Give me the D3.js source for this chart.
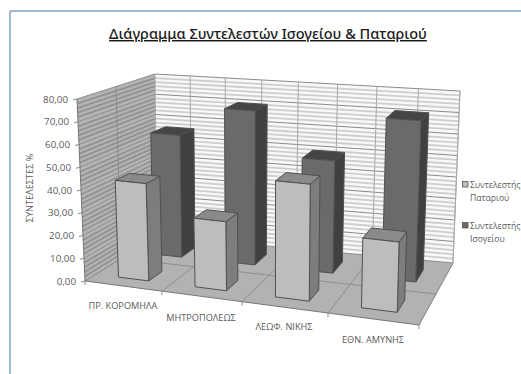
<!DOCTYPE html>
<html><head><meta charset="utf-8">
<script src="https://cdn.jsdelivr.net/npm/d3@7"></script>
<style>
html,body{margin:0;padding:0;background:#fff;overflow:hidden}
svg{display:block}
text{font-family:"Open Sans","Noto Sans",sans-serif;fill:#5a5a5a}
</style></head><body><div id="c"></div>
<script>
const categories=["ΠΡ. ΚΟΡΟΜΗΛΑ","ΜΗΤΡΟΠΟΛΕΩΣ","ΛΕΩΦ. ΝΙΚΗΣ","ΕΘΝ. ΑΜΥΝΗΣ"];
const seriesNames=["Συντελεστής Παταριού","Συντελεστής Ισογείου"];
const patariou=[43,30,50,29.5];
const isogeiou=[57,71,51,72];
const yTicks=[0,10,20,30,40,50,60,70,80];
const yTickLabels=["0,00","10,00","20,00","30,00","40,00","50,00","60,00","70,00","80,00"];

const W=521,H=374;
const svg=d3.select("#c").append("svg").attr("width",W).attr("height",H);
const defs=svg.append("defs");
defs.append("filter").attr("id","soft").append("feGaussianBlur").attr("stdDeviation",0.5);
svg.append("rect").attr("x",0).attr("y",0).attr("width",W).attr("height",H).attr("fill","#fff");
svg.append("line").attr("x1",10).attr("x2",W).attr("y1",11).attr("y2",11).attr("stroke","#9db7d6").attr("stroke-width",2);
svg.append("line").attr("x1",10).attr("x2",10).attr("y1",11).attr("y2",H).attr("stroke","#9db7d6").attr("stroke-width",2);

// plot box corners: fbl, fbr, bbr, bbl for floor and ceiling; u along categories, w into depth, v up
const floorQ=[[85,281],[419,325],[453,263],[157,236]];
const ceilQ=[[77,99],[425,130],[460,91],[155,74]];
const uWarp=d3.scaleLinear().domain([0,.25,.5,.75,1]).range([0,.2305,.47,.7275,1]);
const bil=(q,u,w)=>[0,1].map(k=>(1-w)*((1-u)*q[0][k]+u*q[1][k])+w*((1-u)*q[3][k]+u*q[2][k]));
const P=(u,w,v)=>{const U=uWarp(u),a=bil(floorQ,U,w),b=bil(ceilQ,U,w);return [a[0]+(b[0]-a[0])*v,a[1]+(b[1]-a[1])*v];};

const yS=d3.scaleLinear().domain([0,80]).range([0,1]);
const xS=d3.scaleBand().domain(categories).range([0,1]).paddingInner(0.6).paddingOuter(0.3);
const zS=d3.scaleBand().domain([0,1]).range([0,1]).paddingInner(0.6).paddingOuter(0.3);
const xStep=d3.scalePoint().domain(d3.range(categories.length+1)).range([0,1]);
const path=a=>"M"+a.map(p=>p.map(n=>n.toFixed(2)).join(",")).join("L")+"Z";
const g=svg.append("g").attr("filter","url(#soft)");
const face=(pts,fill,stroke,sw)=>g.append("path").attr("d",path(pts)).attr("fill",fill).attr("stroke",stroke||"none").attr("stroke-width",sw||0).attr("stroke-linejoin","round");
const seg=(a,b,c,sw)=>g.append("line").attr("x1",a[0]).attr("y1",a[1]).attr("x2",b[0]).attr("y2",b[1]).attr("stroke",c).attr("stroke-width",sw);

// walls and floor
face([P(0,0,0),P(0,1,0),P(0,1,1),P(0,0,1)],"#b4b4b4");
face([P(0,1,0),P(1,1,0),P(1,1,1),P(0,1,1)],"#f8f8f8");
face([P(0,0,0),P(1,0,0),P(1,1,0),P(0,1,0)],"#b2b2b2");
d3.range(0,81,2).forEach(t=>{
  const major=t%10===0,v=yS(t);
  seg(P(0,0,v),P(0,1,v),major?"#8c8c8c":"#929292",major?1:1.8);
  seg(P(0,1,v),P(1,1,v),major?"#8a8a8a":"#cdcdcd",major?1:1.8);
});
d3.range(0,9).forEach(i=>{const u=i/8;seg(P(u,1,0),P(u,1,1),"#a8a8a8",1);});
seg(P(0,.5,0),P(0,.5,1),"#8c8c8c",1);
seg(P(1,0,0),P(1,1,0),"#999",1);
seg(P(1,1,0),P(1,1,1),"#aaa",1);
xStep.domain().forEach(i=>{const u=xStep(i);seg(P(u,0,0),P(u,1,0),"#8f8f8f",1);});
seg(P(0,.5,0),P(1,.5,0),"#8f8f8f",1);
seg(P(0,0,0),P(1,0,0),"#777",1);
seg(P(0,0,0),P(0,0,1),"#777",1);

function bar(i,s,val,cols){
  const u0=xS(categories[i]),u1=u0+xS.bandwidth();
  const w0=zS(s),w1=w0+zS.bandwidth();
  const v=yS(val);
  face([P(u1,w0,0),P(u1,w1,0),P(u1,w1,v),P(u1,w0,v)],cols.side,"#505050",1);
  face([P(u0,w0,v),P(u1,w0,v),P(u1,w1,v),P(u0,w1,v)],cols.top,"#505050",1);
  face([P(u0,w0,0),P(u1,w0,0),P(u1,w0,v),P(u0,w0,v)],cols.front,"#505050",1);
}
const dark={front:"#6a6a6a",side:"#404040",top:"#454545"};
const light={front:"#bdbdbd",side:"#7d7d7d",top:"#8a8a8a"};
isogeiou.forEach((d,i)=>bar(i,1,d,dark));
patariou.forEach((d,i)=>bar(i,0,d,light));

const ax=svg.append("g");
yTicks.forEach((t,i)=>{
  const p=P(0,0,yS(t));
  seg([p[0]-4,p[1]+1],p,"#888",1);
  ax.append("text").attr("x",p[0]-9).attr("y",p[1]+3.5).attr("text-anchor","end").attr("font-size",9.8).text(yTickLabels[i]);
});
xStep.domain().forEach(i=>{const p=P(xStep(i),0,0);seg(p,[p[0],p[1]+4],"#888",1);});
const labelPos=[[123,309],[201,320.5],[284,329.5],[373,342.5]];
categories.forEach((c,i)=>ax.append("text").attr("x",labelPos[i][0]).attr("y",labelPos[i][1]).attr("text-anchor","middle").attr("font-size",9.2).text(c));
ax.append("text").attr("transform","translate(33,188) rotate(-90)").attr("text-anchor","middle").attr("font-size",9.2).text("ΣΥΝΤΕΛΕΣΤΕΣ %");

svg.append("text").attr("x",268).attr("y",39).attr("text-anchor","middle").attr("font-size",14.5).attr("font-weight",500).attr("text-decoration","underline").style("fill","#1a1a1a").style("font-family","'Noto Sans','Open Sans',sans-serif").text("Διάγραμμα Συντελεστών Ισογείου & Παταριού");

const legY=[187.5,228.5];
const legCols=[light.front,dark.front];
seriesNames.forEach((n,i)=>{
  const [a,b]=n.split(" ");
  svg.append("rect").attr("x",462.5).attr("y",legY[i]-6).attr("width",5.5).attr("height",5.5).attr("fill",legCols[i]).attr("stroke","#555").attr("stroke-width",.8);
  svg.append("text").attr("x",470).attr("y",legY[i]).attr("font-size",8.6).text(a);
  svg.append("text").attr("x",470).attr("y",legY[i]+13).attr("font-size",8.6).text(b);
});
</script></body></html>
